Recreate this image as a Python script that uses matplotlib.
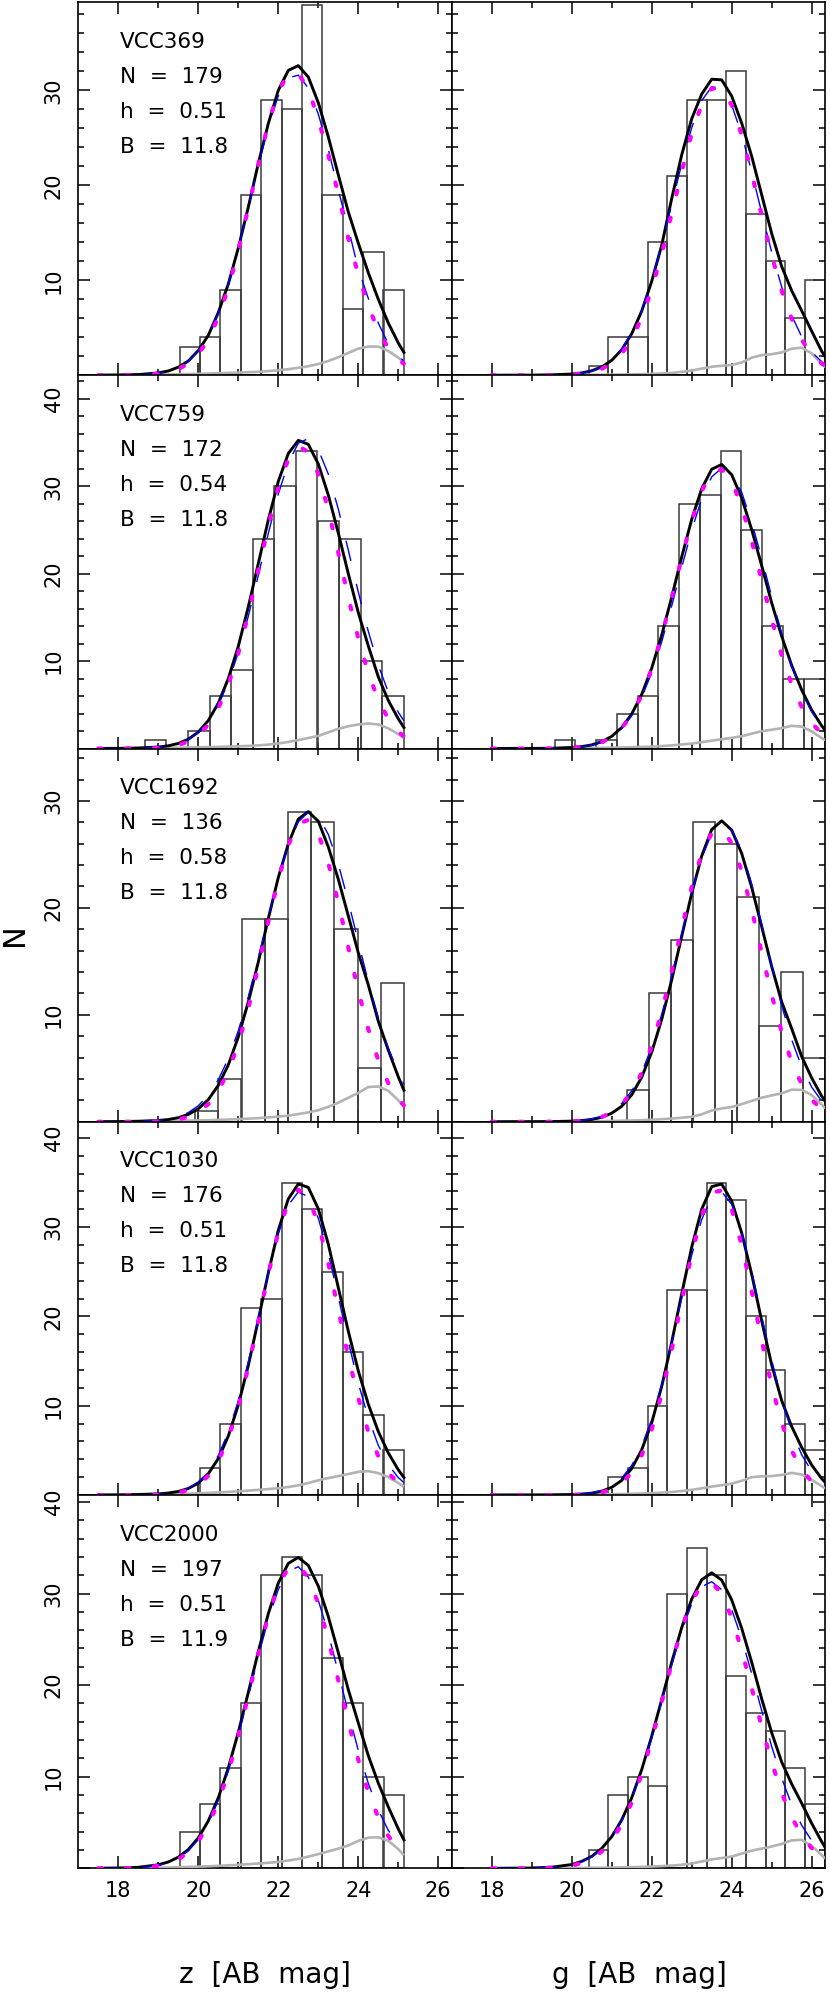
import matplotlib
matplotlib.use('Agg')
import matplotlib.pyplot as plt
from matplotlib.ticker import FixedLocator, MultipleLocator, FuncFormatter

plt.rcParams['font.family'] = ['DejaVu Sans']
plt.rcParams['lines.scale_dashes'] = False

# ---------------- data ----------------
galaxies = ["VCC369", "VCC759", "VCC1692", "VCC1030", "VCC2000"]
n_gc = [179, 172, 136, 176, 197]
h_bin = ["0.51", "0.54", "0.58", "0.51", "0.51"]
b_val = ["11.8", "11.8", "11.8", "11.8", "11.9"]
ylims = [39.3, 42.7, 34.9, 41.8, 40.75]

# histogram bins (last edge + width), counts
z_last_edge = 25.14
g_last_edge = 26.32
z_width = [0.51, 0.54, 0.58, 0.51, 0.51]
g_width = [0.491, 0.519, 0.549, 0.491, 0.491]
z_counts = [
    [3, 4, 9, 19, 29, 28, 39, 19, 7, 13, 9],
    [1, 0, 2, 6, 9, 24, 30, 34, 26, 24, 10, 6],
    [1, 4, 19, 19, 29, 28, 18, 5, 13],
    [3, 8, 21, 22, 35, 32, 25, 16, 9, 5],
    [4, 7, 11, 18, 32, 34, 32, 23, 18, 10, 8],
]
g_counts = [
    [1, 4, 4, 14, 21, 29, 29, 32, 17, 12, 6, 10],
    [1, 0, 1, 4, 6, 14, 28, 29, 34, 25, 14, 8, 8],
    [3, 12, 17, 28, 26, 21, 9, 14, 6],
    [2, 3, 10, 23, 23, 35, 33, 20, 14, 8, 5],
    [2, 8, 10, 9, 30, 35, 32, 21, 17, 15, 11, 7],
]

# model curves, z band
XZ = [17.5, 18.0, 18.5, 19.0, 19.25, 19.5, 19.75, 20.0, 20.25, 20.5, 20.75, 21.0,
      21.25, 21.5, 21.75, 22.0, 22.25, 22.5, 22.75, 23.0, 23.25, 23.5, 23.75, 24.0,
      24.25, 24.5, 24.75, 25.0, 25.14]
z_black = [
    [0.01, 0.03, 0.07, 0.25, 0.45, 0.85, 1.5, 2.6, 4.2, 6.6, 9.6, 13.4, 17.7, 22.3, 26.5, 30.0, 32.1, 32.6, 31.4, 28.7, 25.1, 21.1, 17.2, 13.9, 10.8, 8.0, 5.5, 3.4, 2.4],
    [0.01, 0.02, 0.06, 0.17, 0.31, 0.58, 1.06, 1.88, 3.2, 5.19, 8.0, 11.7, 16.2, 21.16, 26.15, 30.56, 33.75, 35.25, 34.8, 32.55, 29.0, 24.65, 20.0, 15.55, 11.74, 8.2, 5.5, 3.4, 2.4],
    [0.01, 0.02, 0.05, 0.12, 0.21, 0.38, 0.69, 1.22, 2.07, 3.41, 5.32, 7.93, 11.2, 14.94, 19.0, 22.84, 25.98, 28.3, 29.0, 28.1, 25.7, 22.68, 19.25, 15.8, 12.8, 9.4, 6.7, 4.2, 2.95],
    [0.01, 0.02, 0.06, 0.13, 0.22, 0.4, 0.73, 1.34, 2.39, 4.08, 6.6, 10.09, 14.5, 19.62, 24.87, 29.66, 33.16, 34.84, 34.45, 32.05, 28.1, 23.22, 18.35, 13.9, 10.18, 7.11, 4.72, 2.83, 1.96],
    [0.01, 0.03, 0.11, 0.38, 0.69, 1.21, 2.05, 3.32, 5.17, 7.7, 10.95, 14.85, 19.19, 23.65, 27.8, 31.14, 33.29, 33.94, 33.07, 30.81, 27.49, 23.54, 19.5, 15.87, 12.3, 9.3, 6.7, 4.3, 3.1],
]
z_blue = [
    [0.0, 0.01, 0.04, 0.21, 0.43, 0.82, 1.49, 2.57, 4.21, 6.53, 9.6, 13.35, 17.6, 22.05, 26.2, 29.4, 31.3, 31.6, 30.25, 27.5, 23.8, 19.5, 15.5, 11.2, 8.1, 5.5, 3.3, 2.0, 1.5],
    [0.0, 0.0, 0.03, 0.14, 0.28, 0.55, 1.04, 1.85, 3.1, 4.98, 7.59, 10.98, 15.13, 19.8, 24.6, 29.1, 32.7, 34.93, 35.46, 34.2, 31.4, 27.4, 22.7, 17.9, 13.4, 9.52, 6.45, 4.15, 3.17],
    [0.0, 0.0, 0.03, 0.12, 0.25, 0.47, 0.86, 1.5, 2.49, 3.92, 5.91, 8.51, 11.69, 15.3, 19.1, 22.76, 25.87, 28.03, 28.97, 28.57, 26.87, 24.1, 20.6, 16.83, 13.09, 9.74, 6.88, 4.65, 3.5],
    [0.0, 0.0, 0.01, 0.08, 0.18, 0.38, 0.76, 1.46, 2.62, 4.42, 7.03, 10.56, 14.9, 19.8, 24.8, 29.25, 32.47, 33.94, 33.4, 31.0, 27.06, 22.2, 17.2, 12.54, 8.62, 5.57, 3.39, 1.95, 1.39],
    [0.0, 0.01, 0.07, 0.31, 0.6, 1.09, 1.9, 3.14, 4.95, 7.43, 10.63, 14.47, 18.74, 23.13, 27.2, 30.44, 32.44, 32.92, 31.8, 29.26, 25.64, 21.39, 17.0, 12.87, 9.27, 6.36, 4.15, 2.58, 1.94],
]
z_magenta = [
    [0.0, 0.0, 0.03, 0.15, 0.32, 0.64, 1.23, 2.21, 3.77, 6.1, 9.2, 13.1, 17.6, 22.2, 26.5, 29.9, 31.7, 31.8, 30.1, 27.0, 23.2, 19.1, 14.4, 10.6, 7.3, 4.7, 2.85, 1.7, 1.2],
    [0.0, 0.0, 0.01, 0.08, 0.18, 0.39, 0.8, 1.52, 2.72, 4.59, 7.28, 10.9, 15.35, 20.4, 25.4, 29.9, 33.1, 34.56, 33.94, 31.4, 27.3, 22.4, 17.3, 12.6, 8.62, 5.56, 3.38, 1.93, 1.38],
    [0.0, 0.0, 0.01, 0.04, 0.1, 0.22, 0.46, 0.9, 1.66, 2.88, 4.72, 7.29, 10.6, 14.5, 18.7, 22.66, 25.9, 27.86, 28.23, 26.94, 24.2, 20.5, 16.3, 12.25, 8.66, 5.76, 3.61, 2.13, 1.54],
    [0.0, 0.0, 0.01, 0.04, 0.11, 0.26, 0.56, 1.14, 2.16, 3.83, 6.35, 9.87, 14.3, 19.45, 24.75, 29.47, 32.8, 34.18, 33.33, 30.4, 25.96, 20.74, 15.5, 10.85, 7.09, 4.35, 2.49, 1.34, 0.91],
    [0.0, 0.01, 0.06, 0.26, 0.52, 0.98, 1.75, 2.95, 4.74, 7.24, 10.49, 14.42, 18.85, 23.4, 27.58, 30.87, 32.8, 33.1, 31.74, 28.9, 24.96, 20.5, 15.99, 11.84, 8.32, 5.55, 3.53, 2.12, 1.56],
]
z_gray = [
    [0.01, 0.02, 0.04, 0.07, 0.09, 0.11, 0.13, 0.15, 0.18, 0.21, 0.25, 0.28, 0.32, 0.36, 0.44, 0.53, 0.64, 0.78, 0.95, 1.18, 1.5, 1.9, 2.35, 2.8, 3.02, 3.02, 2.55, 1.85, 1.4],
    [0.01, 0.02, 0.04, 0.06, 0.08, 0.1, 0.12, 0.14, 0.16, 0.19, 0.22, 0.25, 0.3, 0.36, 0.45, 0.58, 0.75, 0.97, 1.2, 1.45, 1.85, 2.25, 2.55, 2.75, 2.86, 2.75, 2.3, 1.65, 1.2],
    [0.01, 0.02, 0.04, 0.06, 0.07, 0.09, 0.11, 0.13, 0.15, 0.18, 0.21, 0.25, 0.29, 0.34, 0.41, 0.48, 0.58, 0.72, 0.88, 1.08, 1.4, 1.78, 2.25, 2.7, 3.25, 3.3, 2.9, 2.0, 1.4],
    [0.01, 0.02, 0.05, 0.08, 0.1, 0.13, 0.16, 0.2, 0.24, 0.29, 0.35, 0.42, 0.5, 0.58, 0.67, 0.76, 0.9, 1.08, 1.35, 1.65, 1.9, 2.12, 2.35, 2.6, 2.68, 2.45, 2.0, 1.35, 0.93],
    [0.01, 0.02, 0.04, 0.07, 0.09, 0.12, 0.15, 0.18, 0.22, 0.27, 0.32, 0.38, 0.45, 0.52, 0.6, 0.7, 0.85, 1.02, 1.27, 1.55, 1.85, 2.15, 2.5, 3.0, 3.35, 3.38, 3.0, 2.1, 1.42],
]

# model curves, g band
XG = [18.0, 18.5, 19.0, 19.5, 20.0, 20.25, 20.5, 20.75, 21.0, 21.25, 21.5, 21.75, 22.0,
      22.25, 22.5, 22.75, 23.0, 23.25, 23.5, 23.75, 24.0, 24.25, 24.5, 24.75, 25.0,
      25.25, 25.5, 25.75, 26.0, 26.25, 26.34]
g_black = [
    [0.0, 0.01, 0.01, 0.04, 0.13, 0.25, 0.47, 0.88, 1.57, 2.68, 4.37, 6.75, 9.89, 13.69, 18.6, 23.2, 27.0, 29.6, 31.17, 31.1, 29.39, 26.54, 23.05, 18.99, 14.92, 11.45, 8.9, 6.79, 4.64, 2.53, 1.93],
    [0.0, 0.01, 0.01, 0.03, 0.12, 0.22, 0.41, 0.77, 1.39, 2.4, 3.95, 6.18, 9.19, 12.96, 17.32, 21.91, 26.21, 29.72, 31.95, 32.49, 31.32, 28.66, 25.05, 20.91, 16.66, 12.84, 9.5, 6.7, 4.4, 2.6, 2.05],
    [0.0, 0.01, 0.01, 0.02, 0.06, 0.11, 0.22, 0.42, 0.8, 1.45, 2.52, 4.17, 6.51, 9.57, 13.27, 17.35, 21.34, 24.85, 27.32, 28.14, 27.27, 25.09, 21.92, 18.24, 14.52, 11.2, 8.71, 6.1, 4.1, 2.4, 1.9],
    [0.0, 0.01, 0.01, 0.02, 0.06, 0.11, 0.21, 0.43, 0.86, 1.64, 2.97, 5.06, 8.1, 12.17, 17.11, 22.53, 27.76, 32.01, 34.54, 34.83, 32.92, 29.35, 24.73, 19.51, 14.58, 10.57, 7.67, 5.33, 3.36, 1.84, 1.4],
    [0.0, 0.01, 0.03, 0.12, 0.41, 0.75, 1.3, 2.17, 3.45, 5.28, 7.69, 10.77, 14.41, 18.41, 22.49, 26.28, 29.39, 31.5, 32.26, 31.46, 29.3, 26.2, 22.5, 18.5, 14.8, 11.6, 9.2, 7.1, 4.9, 2.9, 2.25],
]
g_blue = [
    [0.0, 0.0, 0.0, 0.02, 0.11, 0.23, 0.46, 0.88, 1.59, 2.74, 4.44, 6.85, 9.98, 13.76, 17.98, 22.25, 26.06, 28.91, 30.37, 30.2, 28.44, 25.37, 21.41, 17.11, 12.96, 9.29, 6.3, 4.05, 2.46, 1.42, 1.15],
    [0.0, 0.0, 0.0, 0.02, 0.09, 0.19, 0.38, 0.72, 1.32, 2.28, 3.74, 5.85, 8.67, 12.2, 16.31, 20.72, 24.96, 28.58, 31.07, 32.09, 31.46, 29.3, 25.91, 21.75, 17.36, 13.15, 9.44, 6.45, 4.19, 2.58, 2.14],
    [0.0, 0.0, 0.0, 0.01, 0.05, 0.12, 0.25, 0.5, 0.95, 1.71, 2.88, 4.61, 6.99, 10.03, 13.65, 17.55, 21.39, 24.68, 26.96, 27.89, 27.31, 25.34, 22.24, 18.49, 14.57, 10.86, 7.67, 5.13, 3.24, 1.94, 1.59],
    [0.0, 0.0, 0.0, 0.01, 0.05, 0.11, 0.25, 0.52, 1.02, 1.9, 3.32, 5.47, 8.47, 12.37, 17.03, 22.05, 26.86, 30.85, 33.35, 33.96, 32.56, 29.4, 25.0, 20.02, 15.09, 10.72, 7.16, 4.51, 2.67, 1.49, 1.19],
    [0.0, 0.0, 0.02, 0.1, 0.38, 0.71, 1.25, 2.11, 3.37, 5.18, 7.57, 10.62, 14.22, 18.17, 22.19, 25.9, 28.87, 30.75, 31.29, 30.42, 28.25, 25.06, 21.25, 17.21, 13.3, 9.84, 6.95, 4.69, 3.02, 1.86, 1.55],
]
g_magenta = [
    [0.0, 0.0, 0.0, 0.01, 0.07, 0.16, 0.34, 0.67, 1.27, 2.26, 3.81, 6.04, 9.04, 12.77, 17.02, 21.42, 25.45, 28.53, 30.2, 30.16, 28.44, 25.3, 21.25, 16.84, 12.6, 8.9, 5.93, 3.73, 2.22, 1.24, 0.99],
    [0.0, 0.0, 0.0, 0.01, 0.08, 0.17, 0.36, 0.7, 1.31, 2.32, 3.86, 6.1, 9.11, 12.88, 17.23, 21.79, 26.05, 29.46, 31.55, 31.93, 30.58, 27.7, 23.72, 19.23, 14.74, 10.68, 7.33, 4.75, 2.92, 1.7, 1.37],
    [0.0, 0.0, 0.0, 0.01, 0.04, 0.1, 0.21, 0.44, 0.87, 1.61, 2.79, 4.57, 7.06, 10.26, 14.03, 18.08, 21.94, 25.07, 26.98, 27.33, 26.08, 23.44, 19.83, 15.81, 11.86, 8.39, 5.58, 3.5, 2.06, 1.15, 0.92],
    [0.0, 0.0, 0.0, 0.0, 0.02, 0.05, 0.12, 0.29, 0.64, 1.32, 2.51, 4.45, 7.36, 11.32, 16.24, 21.69, 27.01, 31.33, 33.86, 34.11, 32.0, 27.98, 22.8, 17.3, 12.23, 8.06, 4.95, 2.83, 1.51, 0.75, 0.57],
    [0.0, 0.0, 0.01, 0.07, 0.29, 0.57, 1.05, 1.83, 3.03, 4.78, 7.19, 10.3, 14.01, 18.13, 22.35, 26.18, 29.17, 30.94, 31.22, 29.97, 27.37, 23.78, 19.68, 15.46, 11.57, 8.24, 5.58, 3.6, 2.2, 1.28, 1.05],
]
g_gray = [
    [0.0, 0.01, 0.01, 0.02, 0.03, 0.04, 0.05, 0.06, 0.07, 0.08, 0.1, 0.12, 0.15, 0.19, 0.25, 0.36, 0.5, 0.7, 0.9, 1.0, 1.08, 1.35, 1.85, 2.12, 2.22, 2.4, 2.8, 2.9, 2.3, 1.2, 0.85],
    [0.0, 0.01, 0.01, 0.02, 0.04, 0.05, 0.06, 0.08, 0.1, 0.12, 0.15, 0.18, 0.22, 0.28, 0.36, 0.46, 0.57, 0.72, 0.9, 1.06, 1.22, 1.4, 1.7, 1.98, 2.15, 2.33, 2.6, 2.5, 1.95, 1.2, 0.95],
    [0.0, 0.01, 0.01, 0.02, 0.03, 0.04, 0.05, 0.06, 0.08, 0.1, 0.12, 0.15, 0.19, 0.24, 0.3, 0.38, 0.47, 0.7, 1.05, 1.25, 1.38, 1.65, 1.95, 2.25, 2.47, 2.66, 3.0, 2.98, 2.5, 1.6, 1.25],
    [0.0, 0.01, 0.01, 0.02, 0.03, 0.04, 0.05, 0.07, 0.09, 0.11, 0.14, 0.17, 0.21, 0.27, 0.34, 0.45, 0.58, 0.75, 0.95, 1.1, 1.28, 1.6, 2.0, 2.1, 2.13, 2.25, 2.48, 2.3, 1.7, 1.0, 0.75],
    [0.0, 0.01, 0.01, 0.02, 0.03, 0.04, 0.05, 0.06, 0.08, 0.1, 0.12, 0.15, 0.19, 0.24, 0.3, 0.38, 0.52, 0.75, 0.97, 1.12, 1.29, 1.6, 1.93, 2.15, 2.38, 2.66, 3.05, 3.1, 2.45, 1.45, 1.06],
]

x_major = [18, 20, 22, 24, 26]
x_minor = [19, 21, 23, 25]

# ---------------- figure ----------------
FW, FH = 830, 1997
fig = plt.figure(figsize=(FW / 100, FH / 100), dpi=100)

col_x0 = [78.3, 451.7]
panel_w = 373.4
panel_h = 373.26
top0 = 2.0
XLIM = (17.0, 26.335)

EDGE = '#3a3a3a'


def draw_panel(ax, x, black, blue, mag, gray, lefts, counts, width):
    ax.bar(lefts, counts, width=width, align='edge', fill=False,
           edgecolor=EDGE, linewidth=1.1, zorder=2)
    ax.plot(x, gray, color='#b3b3b3', lw=1.9, zorder=3, solid_capstyle='butt')
    ax.plot(x, black, color='black', lw=2.1, zorder=4)
    ax.plot(x, blue, color='#0000ff', lw=1.0, dashes=(15, 17), zorder=5)
    ax.plot(x, mag, color='#ff00ff', lw=3.0, dashes=(2.6, 17.4),
            dash_capstyle='round', zorder=6)


for r in range(5):
    top = top0 + panel_h * r
    y0 = 1 - (top + panel_h) / FH
    for c in range(2):
        ax = fig.add_axes([col_x0[c] / FW, y0, panel_w / FW, panel_h / FH])
        if c == 0:
            w = z_width[r]
            cnt = z_counts[r]
            lefts = [z_last_edge - w * (len(cnt) - i) for i in range(len(cnt))]
            draw_panel(ax, XZ, z_black[r], z_blue[r], z_magenta[r], z_gray[r],
                       lefts, cnt, w)
        else:
            w = g_width[r]
            cnt = g_counts[r]
            lefts = [g_last_edge - w * (len(cnt) - i) for i in range(len(cnt))]
            draw_panel(ax, XG, g_black[r], g_blue[r], g_magenta[r], g_gray[r],
                       lefts, cnt, w)

        ax.set_xlim(*XLIM)
        ax.set_ylim(0, ylims[r])
        ax.xaxis.set_major_locator(FixedLocator(x_major))
        ax.xaxis.set_minor_locator(FixedLocator(x_minor))
        ax.yaxis.set_major_locator(MultipleLocator(10))
        ax.yaxis.set_minor_locator(MultipleLocator(2))
        ax.yaxis.set_major_formatter(FuncFormatter(lambda v, p: '' if abs(v) < 1e-6 else '%d' % v))
        ax.xaxis.set_major_formatter(FuncFormatter(lambda v, p: '%d' % v))
        ax.tick_params(which='both', direction='in', top=True, right=True,
                       width=1.1, color='black', labelsize=15)
        ax.tick_params(which='major', length=8.4)
        ax.tick_params(which='minor', length=4.3)
        ax.tick_params(axis='x', pad=9.0)
        ax.tick_params(axis='y', pad=10.5, labelrotation=90)
        for sp in ax.spines.values():
            sp.set_linewidth(1.2)
        if c == 1:
            ax.tick_params(axis='y', labelleft=False)
        else:
            for lbl in ax.get_yticklabels():
                lbl.set_verticalalignment('center')
        if r < 4:
            ax.tick_params(axis='x', labelbottom=False)

        if c == 0:
            lines = [galaxies[r],
                     "N  =  %d" % n_gc[r],
                     "h  =  %s" % h_bin[r],
                     "B  =  %s" % b_val[r]]
            for k, s in enumerate(lines):
                ax.text(0.1117, 0.8937 - 0.0938 * k, s, transform=ax.transAxes,
                        fontsize=15.5, ha='left', va='center', zorder=7)

fig.text(15 / FW, 1 - 935 / FH, 'N', rotation=90, fontsize=22,
         ha='center', va='center')
fig.text(265 / FW, 0.011, 'z  [AB  mag]', fontsize=20, ha='center', va='center')
fig.text(639 / FW, 0.011, 'g  [AB  mag]', fontsize=20, ha='center', va='center')

fig.savefig('out.png', dpi=100)
